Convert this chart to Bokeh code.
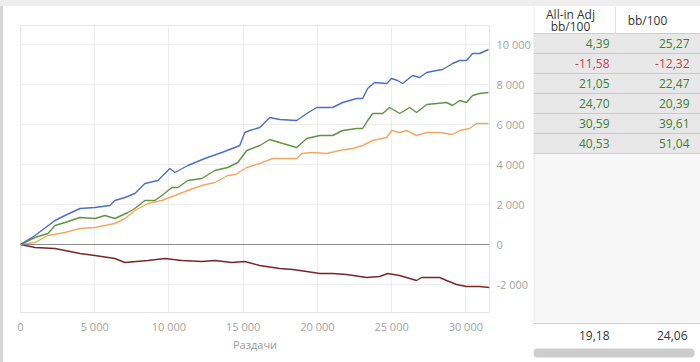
from bokeh.plotting import figure
from bokeh.models import Range1d, FixedTicker, Span, Div
from bokeh.layouts import row, column
from bokeh.embed import file_html
from bokeh.resources import INLINE
from bokeh.core.properties import value

# ---------------- data ----------------
showdown_x = [0, 976, 2322, 2995, 4004, 5014, 6023, 6360, 7033, 7706, 8379, 9254, 10061, 10398, 11273,
              12417, 13561, 14436, 14773, 15109, 15446, 16119, 16792, 17465, 18609, 19282, 19955, 21032,
              21705, 22647, 23051, 23387, 23858, 24666, 25002, 25406, 25743, 26416, 26887, 27358, 28031,
              28435, 29108, 29579, 30050, 30454, 30925, 31531]
showdown_y = [0, 450, 1200, 1450, 1800, 1850, 1950, 2200, 2350, 2550, 3050, 3200, 3800, 3600, 3950,
              4300, 4600, 4850, 4950, 5600, 5700, 5850, 6350, 6250, 6200, 6550, 6850, 6850,
              7100, 7300, 7300, 7800, 8100, 8050, 8300, 8200, 8050, 8450, 8350, 8600, 8700,
              8750, 9050, 9200, 9200, 9550, 9550, 9750]

net_won_x = [0, 976, 1851, 2322, 2995, 4004, 5014, 5687, 6360, 7235, 7706, 8379, 9052, 9523, 10196,
             10600, 11273, 12215, 13090, 13965, 14638, 15244, 16119, 16792, 17667, 18609, 19282, 20157,
             21032, 21705, 22647, 23051, 23387, 23724, 24397, 24868, 25541, 26214, 26685, 27358, 28031,
             28704, 29108, 29579, 30050, 30454, 30925, 31531]
net_won_y = [0, 350, 550, 950, 1100, 1350, 1300, 1450, 1300, 1600, 1800, 2200, 2200, 2450, 2850,
             2850, 3200, 3300, 3700, 3850, 4100, 4700, 4950, 5250, 5050, 4850, 5300, 5450,
             5450, 5700, 5800, 5800, 6200, 6550, 6550, 6850, 6550, 6850, 6600, 7000, 7050,
             7100, 6950, 7200, 7100, 7450, 7550, 7600]

allin_x = [0, 976, 1851, 2995, 4004, 5014, 5687, 6360, 7033, 7706, 8581, 9523, 10398, 11273, 12215,
           13090, 13965, 14503, 14907, 15244, 16119, 16994, 17667, 18609, 18946, 19686, 20628, 21503,
           22378, 23051, 23724, 24666, 25002, 25541, 26012, 26685, 27358, 28233, 29108, 29579, 30252,
           30723, 31531]
allin_y = [0, 100, 450, 600, 800, 850, 950, 1050, 1300, 1700, 2050, 2200, 2450, 2700, 2950,
           3100, 3450, 3500, 3700, 3850, 4050, 4300, 4300, 4300, 4550, 4600, 4550, 4700,
           4800, 4950, 5200, 5350, 5700, 5600, 5700, 5450, 5600, 5600, 5500, 5700, 5800,
           6050, 6050]

nonsd_x = [0, 976, 2322, 2995, 4004, 5014, 6360, 7033, 8581, 9725, 10869, 12215, 13090, 14234, 15109,
           16119, 17465, 18340, 19282, 20157, 21032, 21974, 23320, 24195, 24733, 25541, 26685, 27021,
           27560, 28233, 28704, 29377, 30050, 30925, 31598]
nonsd_y = [0, -150, -200, -300, -450, -550, -700, -900, -800, -700, -800, -850, -800, -900, -850,
           -1050, -1200, -1250, -1350, -1450, -1450, -1500, -1650, -1600, -1450, -1550, -1800, -1650,
           -1650, -1650, -1800, -2000, -2100, -2100, -2150]

x_ticks = [0, 5000, 10000, 15000, 20000, 25000, 30000]
y_ticks = [-2000, 0, 2000, 4000, 6000, 8000, 10000]
x_title = "Раздачи"

header_col1 = ["All-in Adj", "bb/100"]
header_col2 = "bb/100"
allin_adj_bb100 = [4.39, -11.58, 21.05, 24.70, 30.59, 40.53]
bb100 = [25.27, -12.32, 22.47, 20.39, 39.61, 51.04]
totals = [19.18, 24.06]

# ---------------- helpers ----------------
def fmt_thousands(v):
    return f"{v:,}".replace(",", " ")

def fmt_dec(v):
    return f"{v:.2f}".replace(".", ",")

FONT = "Open Sans"
TICK_COLOR = "#a3a3a3"
TOP = 6      # height of the grey strip above everything
LEFT = 3     # width of the grey strip on the left

# ---------------- chart ----------------
p = figure(width=533 - LEFT, height=362 - TOP, output_backend="svg", toolbar_location=None,
           x_range=Range1d(0, 31595), y_range=Range1d(-3400, 10950),
           x_axis_location="below", y_axis_location="right",
           min_border_left=20 - LEFT, min_border_right=43, min_border_top=25 - TOP, min_border_bottom=50)
p.frame_align = False
p.background_fill_color = "white"
p.border_fill_color = "white"
p.outline_line_color = "#e6e6e6"

p.xaxis.ticker = FixedTicker(ticks=x_ticks)
p.yaxis.ticker = FixedTicker(ticks=y_ticks)
p.xaxis.major_label_overrides = {t: fmt_thousands(t) for t in x_ticks}
p.yaxis.major_label_overrides = {t: fmt_thousands(t) for t in y_ticks}
for ax in (p.xaxis, p.yaxis):
    ax.axis_line_color = None
    ax.major_tick_line_color = None
    ax.minor_tick_line_color = None
    ax.major_tick_out = 0
    ax.major_tick_in = 0
    ax.major_label_text_color = TICK_COLOR
    ax.major_label_text_font = FONT
    ax.major_label_text_font_size = "11px"
p.xaxis.major_label_standoff = 6
p.yaxis.major_label_standoff = 7
p.xaxis.axis_label = x_title
p.xaxis.axis_label_text_font = FONT
p.xaxis.axis_label_text_font_style = "normal"
p.xaxis.axis_label_text_font_size = "11px"
p.xaxis.axis_label_text_color = "#999999"
p.xaxis.axis_label_standoff = 0

p.xgrid.ticker = FixedTicker(ticks=x_ticks)
p.ygrid.ticker = FixedTicker(ticks=y_ticks)
p.grid.grid_line_color = "#ededed"

p.add_layout(Span(location=0, dimension="width", line_color="#8c8c8c", line_width=1))

p.line(allin_x, allin_y, line_color="#f2a862", line_width=1.4)
p.line(net_won_x, net_won_y, line_color="#5e9444", line_width=1.4)
p.line(showdown_x, showdown_y, line_color="#4a6fc6", line_width=1.4)
p.line(nonsd_x, nonsd_y, line_color="#7a2626", line_width=1.4)

# ---------------- table panel ----------------
t = figure(width=167, height=362 - TOP, output_backend="svg", toolbar_location=None,
           x_range=Range1d(0, 167), y_range=Range1d(16.45, -1.65 + TOP / 20),
           x_axis_location=None, y_axis_location=None, min_border=0)
t.frame_align = False
t.grid.visible = False
t.outline_line_color = None
t.background_fill_color = "white"
t.border_fill_color = "white"

n = len(bb100)
rows = list(range(n))
t.quad(left=0, right=167, top=n, bottom=14.5, fill_color="#f7f7f7", line_color=None)
t.quad(left=0, right=167, top=rows, bottom=[r + 1 for r in rows], fill_color="#e8e8e8", line_color=None)
t.segment(x0=0, x1=167, y0=list(range(n + 1)), y1=list(range(n + 1)),
          line_color="#d39a74", line_width=1, line_dash="1 1")
t.segment(x0=[0.5, 82], x1=[0.5, 82], y0=[-1.4, -1.4], y1=[14.5, 0], line_color="#e2e2e2", line_width=1)
t.segment(x0=0, x1=167, y0=14.5, y1=14.5, line_color="#cfcfcf", line_width=1)

t.text(x=[37, 37], y=[-0.95, -0.33], text=header_col1, text_align="center", text_baseline="middle",
       text_color="#333333", text_font=value(FONT), text_font_size="12px")
t.text(x=[114], y=[-0.64], text=[header_col2], text_align="center", text_baseline="middle",
       text_color="#333333", text_font=value(FONT), text_font_size="12px")

def col_color(vals):
    return ["#3b8132" if v >= 0 else "#c4404a" for v in vals]

ymid = [r + 0.5 for r in rows]
t.text(x=[76] * n, y=ymid, text=[fmt_dec(v) for v in allin_adj_bb100], text_align="right",
       text_baseline="middle", text_color=col_color(allin_adj_bb100), text_font=value(FONT),
       text_font_size="12px")
t.text(x=[156] * n, y=ymid, text=[fmt_dec(v) for v in bb100], text_align="right",
       text_baseline="middle", text_color=col_color(bb100), text_font=value(FONT),
       text_font_size="12px")

t.text(x=[76, 154], y=[15.1, 15.1], text=[fmt_dec(v) for v in totals], text_align="right",
       text_baseline="middle", text_color="#333333", text_font=value(FONT), text_font_size="12px")

t.quad(left=0, right=161, top=15.75, bottom=16.2, fill_color="#cdcdcd", line_color=None, border_radius=4)

# ---------------- page ----------------
top_bar = Div(text="", width=700, height=TOP, margin=0, styles={"background-color": "#eeeeee"})
left_bar = Div(text="", width=LEFT, height=362 - TOP, margin=0, styles={"background-color": "#d6d6d6"})
layout = column(top_bar, row(left_bar, p, t, spacing=0), spacing=0)
open("out.html", "w").write(file_html(layout, INLINE))
